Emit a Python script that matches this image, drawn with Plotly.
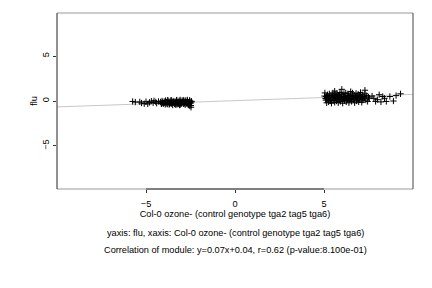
import plotly.graph_objects as go

# cluster 1 (negative x)
x_neg = [-5.75,-5.6,-5.35,-5.25,-5.1,-5.0,-4.9,-4.8,-4.7,-4.6,-4.55,-4.45,-4.4,-4.3,
         -4.18,-4.15,-4.1,-4.07,-4.02,-3.98,-3.95,-3.9,-3.87,-3.83,-3.8,-3.76,-3.72,-3.7,
         -3.66,-3.62,-3.6,-3.56,-3.52,-3.5,-3.47,-3.43,-3.4,-3.37,-3.33,-3.3,-3.27,-3.24,
         -3.2,-3.17,-3.14,-3.1,-3.07,-3.04,-3.0,-2.97,-2.94,-2.9,-2.87,-2.84,-2.8,-2.77,
         -2.74,-2.7,-2.67,-2.64,-2.6,-2.57,-2.54,-2.5,-2.47,-2.44,-4.12,-3.92,-3.68,-3.45,
         -3.22,-3.02,-2.82,-2.62,-2.52,-3.85,-3.55,-3.35,-3.12,-2.92,-2.72,-2.58,-2.48,-4.05,
         -3.78,-3.58,-3.28,-3.08,-2.88,-2.68,-2.55,-2.45]
y_neg = [-0.05,-0.12,-0.1,-0.22,-0.3,-0.08,-0.32,-0.15,-0.02,-0.2,0.02,-0.1,-0.25,-0.05,
         -0.1,-0.25,0.0,-0.15,-0.3,-0.05,-0.2,0.05,-0.28,-0.1,-0.35,0.02,-0.18,-0.4,
         -0.08,-0.25,0.05,-0.3,-0.12,-0.45,0.0,-0.2,-0.33,-0.05,-0.15,-0.38,0.08,-0.22,
         -0.1,-0.3,0.03,-0.18,-0.4,-0.08,-0.25,0.06,-0.15,-0.32,-0.02,-0.2,-0.42,0.05,
         -0.12,-0.28,0.0,-0.35,-0.15,-0.55,-0.05,-0.25,-0.7,-0.1,-0.32,-0.38,-0.3,-0.12,
         -0.35,-0.3,-0.28,-0.4,-0.18,-0.15,-0.22,-0.4,-0.45,-0.1,-0.22,-0.3,-0.5,-0.22,
         0.1,0.08,0.1,0.12,0.1,0.12,0.08,-0.02]

# cluster 2 (positive x)
x_pos = [5.05,5.1,5.12,5.15,5.2,5.22,5.25,5.3,5.32,5.35,5.4,5.42,5.45,5.5,5.52,5.55,
         5.6,5.62,5.65,5.7,5.72,5.75,5.8,5.82,5.85,5.9,5.92,5.95,6.0,6.02,6.05,6.1,
         6.12,6.15,6.2,6.22,6.25,6.3,6.32,6.35,6.4,6.42,6.45,6.5,6.52,6.55,6.6,6.62,
         6.65,6.7,6.72,6.75,6.8,6.82,6.85,6.9,6.92,6.95,7.0,7.02,7.05,7.1,7.12,7.15,
         7.2,7.25,7.3,7.35,7.4,7.45,7.5,7.55,5.08,5.18,5.28,5.38,5.48,5.58,5.68,5.78,
         5.88,5.98,6.08,6.18,6.28,6.38,6.48,6.58,6.68,6.78,6.88,6.98,7.08,7.18,7.28,
         5.03,5.14,5.36,5.64,5.86,6.14,6.36,6.64,6.86,7.14,
         7.7,7.8,7.9,8.0,8.1,8.2,8.3,8.4,8.5,8.7,8.9,9.05,9.3,6.0,7.3,6.5,5.6]
y_pos = [0.9,0.1,0.5,-0.2,0.7,0.2,-0.1,0.8,0.35,0.0,0.6,-0.25,0.4,0.9,0.1,0.55,
         -0.15,0.75,0.3,0.0,0.85,0.45,-0.2,0.6,0.2,0.95,-0.05,0.4,0.7,0.15,-0.25,0.5,
         0.85,0.05,0.35,0.9,-0.1,0.6,0.25,0.8,-0.2,0.45,0.1,0.7,0.3,-0.05,0.9,0.5,
         0.15,0.65,-0.2,0.4,0.85,0.0,0.55,0.3,0.75,-0.1,0.6,0.2,0.95,0.4,-0.15,0.7,
         0.25,0.5,0.8,0.1,0.6,-0.05,0.45,0.3,0.3,0.6,0.45,0.15,0.65,0.35,0.5,0.2,
         0.7,0.4,0.25,0.55,0.05,0.45,0.3,0.6,0.15,0.5,0.35,0.2,0.45,0.1,0.35,
         0.55,0.25,0.05,0.4,0.15,0.3,0.6,0.25,0.1,0.45,
         0.55,0.3,-0.05,0.15,0.7,-0.1,0.5,0.3,-0.05,0.5,0.0,0.6,0.8,1.3,1.2,1.05,1.1]

slope = 0.07
intercept = 0.04
x_range = [-10, 10]
y_range = [-9.8, 9.8]
x_ticks = [-5, 0, 5]
y_ticks = [-5, 0, 5]

x_title = "Col-0 ozone- (control genotype tga2 tag5 tga6)"
y_title = "flu"
line3 = "yaxis: flu, xaxis: Col-0 ozone- (control genotype tga2 tag5 tga6)"
line4 = "Correlation of module: y=0.07x+0.04, r=0.62 (p-value:8.100e-01)"

FONT = "Liberation Sans, Arial, sans-serif"
fs = 9.2

fig = go.Figure()
fig.add_trace(go.Scatter(
    x=x_range, y=[slope * v + intercept for v in x_range], mode="lines",
    line=dict(color="#c8c8c8", width=1), hoverinfo="skip", showlegend=False))
fig.add_trace(go.Scatter(
    x=x_neg + x_pos, y=y_neg + y_pos, mode="markers",
    marker=dict(symbol="cross-thin", size=4.5, line=dict(color="black", width=1)),
    showlegend=False))

fig.update_layout(
    width=432, height=288,
    margin=dict(l=57, r=19, t=13, b=99),
    paper_bgcolor="white", plot_bgcolor="white",
    font=dict(family=FONT, size=fs, color="black"),
    xaxis=dict(range=x_range, tickvals=x_ticks, showgrid=False, zeroline=False,
               ticks="outside", ticklen=3, tickcolor="#333", showline=False,
               ticklabelstandoff=3,
               title=dict(text=x_title, standoff=2, font=dict(size=fs))),
    yaxis=dict(range=y_range, tickvals=y_ticks, showgrid=False, zeroline=False,
               ticks="outside", ticklen=3, tickcolor="#333", showline=False,
               tickangle=-90,
               title=dict(text=y_title, standoff=2, font=dict(size=fs))),
    shapes=[
        dict(type="line", xref="paper", yref="paper", x0=0, x1=1, y0=1, y1=1,
             line=dict(color="#999", width=1)),
        dict(type="line", xref="paper", yref="paper", x0=0, x1=1, y0=0, y1=0,
             line=dict(color="#999", width=1)),
        dict(type="line", xref="paper", yref="paper", x0=0, x1=0, y0=0, y1=1,
             line=dict(color="#222", width=1)),
        dict(type="line", xref="paper", yref="paper", x0=1, x1=1, y0=0, y1=1,
             line=dict(color="#444", width=1)),
        dict(type="line", xref="x", yref="paper", x0=x_ticks[0], x1=x_ticks[-1], y0=0, y1=0,
             line=dict(color="#333", width=1)),
    ],
    annotations=[
        dict(text=line3, xref="paper", yref="paper", x=0.5, y=-43.5/176,
             yanchor="middle", showarrow=False, font=dict(size=fs)),
        dict(text=line4, xref="paper", yref="paper", x=0.5, y=-60.5/176,
             yanchor="middle", showarrow=False, font=dict(size=fs)),
    ],
)

fig.write_html("out.html")
